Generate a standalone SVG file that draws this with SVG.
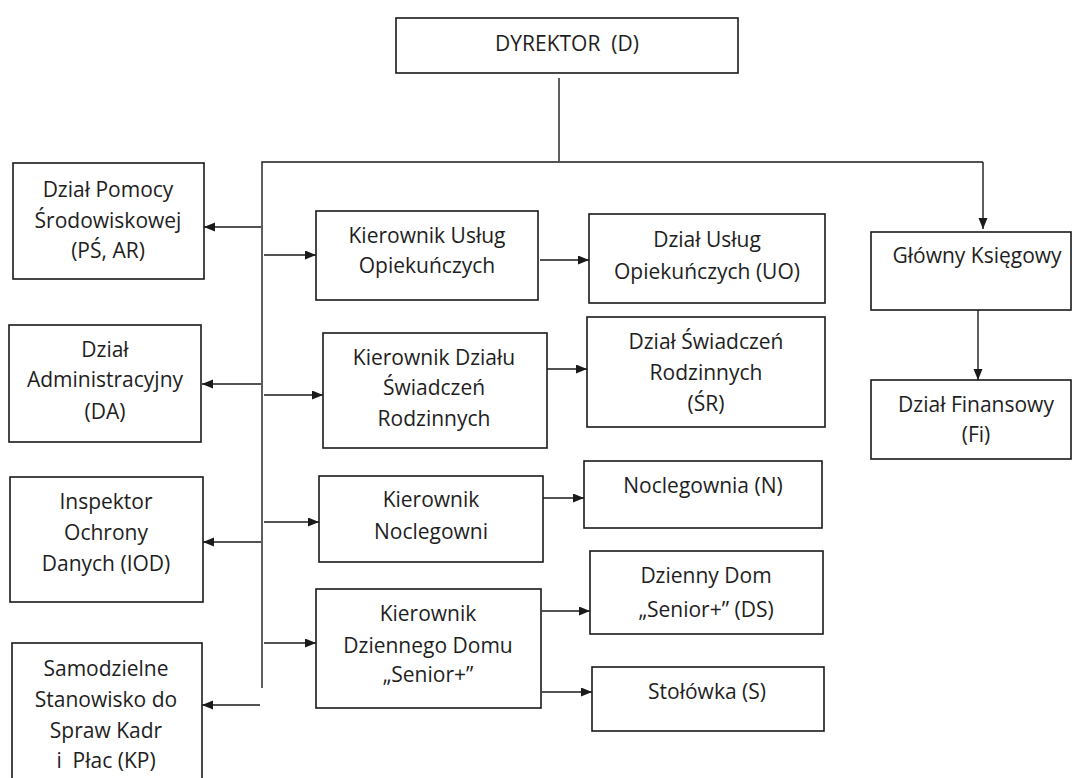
<svg xmlns="http://www.w3.org/2000/svg" width="1073" height="778" viewBox="0 0 1073 778">
<defs>
<marker id="ah" markerUnits="userSpaceOnUse" markerWidth="12" markerHeight="10" refX="11" refY="4.5" orient="auto">
<path d="M0,0 L11,4.5 L0,9 z" fill="#1a1a1a"/>
</marker>
<style>
.box{fill:#fff;stroke:#1a1a1a;stroke-width:1.6}
.t{font-family:"Open Sans","Noto Sans","Liberation Sans",sans-serif;font-size:21px;fill:#1e1e1e;text-anchor:middle}
.c{fill:none;stroke:#1a1a1a;stroke-width:1.4}
.a{fill:none;stroke:#1a1a1a;stroke-width:1.4;marker-end:url(#ah)}
</style>
</defs>
<rect width="1073" height="778" fill="#fff"/>
<g id="connectors">
<path class="c" d="M559,78 V161"/>
<path class="c" d="M262,688 V162 H983"/>
<path class="a" d="M983,162 V229"/>
<path class="a" d="M261,227 H204"/>
<path class="a" d="M261,384 H202"/>
<path class="a" d="M261,542 H203"/>
<path class="a" d="M260,705 H202"/>
<path class="a" d="M264,255 H316"/>
<path class="a" d="M264,395 H323"/>
<path class="a" d="M264,522 H319"/>
<path class="a" d="M264,643 H316"/>
<path class="a" d="M540,260 H589"/>
<path class="a" d="M540,369 H587"/>
<path class="a" d="M542,498 H584"/>
<path class="a" d="M542,611 H590"/>
<path class="a" d="M542,692 H592"/>
<path class="a" d="M978,310 V380"/>
</g>
<g id="dyrektor"><rect class="box" x="396" y="18" width="342" height="55"/><text class="t" x="567" y="51" xml:space="preserve">DYREKTOR  (D)</text></g>
<g id="ps"><rect class="box" x="13" y="163" width="191" height="116"/><text class="t" x="108" y="197">Dział Pomocy</text><text class="t" x="108" y="228">Środowiskowej</text><text class="t" x="108" y="258">(PŚ, AR)</text></g>
<g id="da"><rect class="box" x="9" y="325" width="192" height="117"/><text class="t" x="105" y="357">Dział</text><text class="t" x="105" y="387">Administracyjny</text><text class="t" x="105" y="419">(DA)</text></g>
<g id="iod"><rect class="box" x="10" y="477" width="193" height="125"/><text class="t" x="106" y="509">Inspektor</text><text class="t" x="106" y="540">Ochrony</text><text class="t" x="106" y="571">Danych (IOD)</text></g>
<g id="kp"><rect class="box" x="12" y="643" width="190" height="150"/><text class="t" x="106" y="676">Samodzielne</text><text class="t" x="106" y="707">Stanowisko do</text><text class="t" x="106" y="738">Spraw Kadr</text><text class="t" x="106" y="768" xml:space="preserve">i  Płac (KP)</text></g>
<g id="kuo"><rect class="box" x="316" y="211" width="222" height="89"/><text class="t" x="427" y="243">Kierownik Usług</text><text class="t" x="427" y="273">Opiekuńczych</text></g>
<g id="kdsr"><rect class="box" x="323" y="333" width="224" height="115"/><text class="t" x="434" y="365">Kierownik Działu</text><text class="t" x="434" y="395">Świadczeń</text><text class="t" x="434" y="426">Rodzinnych</text></g>
<g id="kn"><rect class="box" x="319" y="476" width="224" height="86"/><text class="t" x="431" y="507">Kierownik</text><text class="t" x="431" y="539">Noclegowni</text></g>
<g id="kdd"><rect class="box" x="316" y="589" width="225" height="119"/><text class="t" x="428" y="621">Kierownik</text><text class="t" x="428" y="653">Dziennego Domu</text><text class="t" x="428" y="682">„Senior+”</text></g>
<g id="duo"><rect class="box" x="589" y="214" width="236" height="89"/><text class="t" x="707" y="247">Dział Usług</text><text class="t" x="707" y="279">Opiekuńczych (UO)</text></g>
<g id="dsr"><rect class="box" x="587" y="317" width="238" height="110"/><text class="t" x="706" y="349">Dział Świadczeń</text><text class="t" x="706" y="380">Rodzinnych</text><text class="t" x="706" y="411">(ŚR)</text></g>
<g id="n"><rect class="box" x="584" y="461" width="238" height="67"/><text class="t" x="703" y="493">Noclegownia (N)</text></g>
<g id="ds"><rect class="box" x="590" y="551" width="233" height="83"/><text class="t" x="706" y="583">Dzienny Dom</text><text class="t" x="706" y="617">„Senior+” (DS)</text></g>
<g id="s"><rect class="box" x="592" y="667" width="232" height="64"/><text class="t" x="707" y="699">Stołówka (S)</text></g>
<g id="gk"><rect class="box" x="871" y="232" width="200" height="78"/><text class="t" x="977" y="263">Główny Księgowy</text></g>
<g id="df"><rect class="box" x="871" y="380" width="200" height="79"/><text class="t" x="976" y="412">Dział Finansowy</text><text class="t" x="976" y="442">(Fi)</text></g>
</svg>
